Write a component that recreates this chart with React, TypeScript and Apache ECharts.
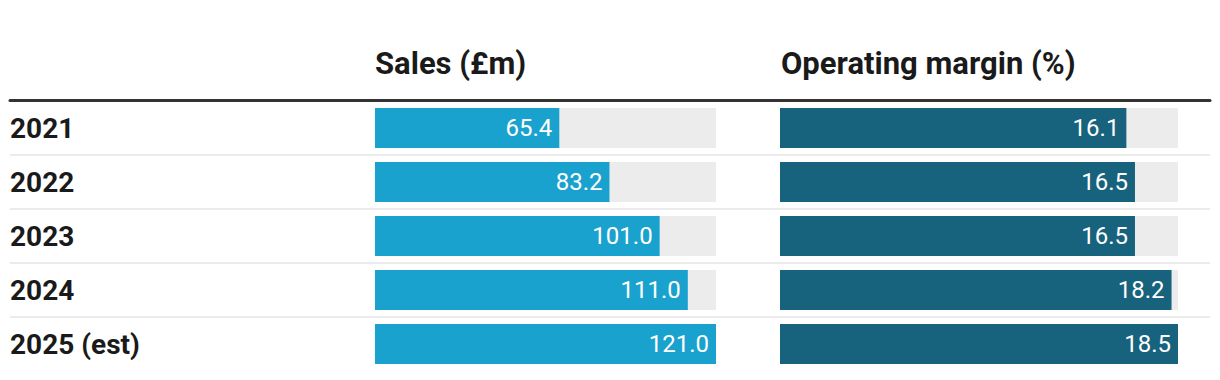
import React, { useEffect, useRef } from "react";
import * as echarts from "echarts";

const years = ["2021", "2022", "2023", "2024", "2025 (est)"];
const sales = [65.4, 83.2, 101.0, 111.0, 121.0];
const margin = [16.1, 16.5, 16.5, 18.2, 18.5];
const headers = ["Sales (£m)", "Operating margin (%)"];

const FONT = "Roboto, 'Noto Sans', sans-serif";

export default function App() {
  const ref = useRef<HTMLDivElement>(null);
  useEffect(() => {
    document.body.style.margin = "0";
    const chart = echarts.init(ref.current!, null, { renderer: "svg" });
    const top = 101;
    const height = 270;
    const hiddenX = (gridIndex: number) => ({
      type: "value" as const,
      gridIndex,
      min: 0,
      max: "dataMax",
      show: false,
    });
    const hiddenY = (gridIndex: number) => ({
      type: "category" as const,
      gridIndex,
      data: years,
      inverse: true,
      show: false,
    });
    const barLabel = {
      show: true,
      position: "insideRight" as const,
      distance: 7,
      color: "#ffffff",
      fontFamily: FONT,
      fontSize: 24,
      formatter: (p: any) => Number(p.value).toFixed(1),
    };
    const headerStyle = { fontFamily: FONT, fontSize: 31, fontWeight: "bold", color: "#1a1a1a" };
    chart.setOption({
      animation: false,
      title: [
        { text: headers[0], left: 375, top: 48, padding: 0, textStyle: headerStyle },
        { text: headers[1], left: 781, top: 48, padding: 0, textStyle: headerStyle },
      ],
      grid: [
        { left: 10, width: 1200, top, height },
        { left: 375, width: 341, top, height },
        { left: 780, width: 398, top, height },
      ],
      xAxis: [
        {
          type: "value",
          gridIndex: 0,
          position: "top",
          offset: 1,
          axisLine: { show: true, lineStyle: { color: "#333333", width: 3 } },
          axisTick: { show: false },
          axisLabel: { show: false },
          splitLine: { show: false },
        },
        hiddenX(1),
        hiddenX(2),
      ],
      yAxis: [
        {
          type: "category",
          gridIndex: 0,
          data: years,
          inverse: true,
          axisLine: { show: false },
          axisTick: { show: false },
          axisLabel: {
            inside: true,
            margin: 0,
            align: "left",
            fontFamily: FONT,
            fontSize: 28,
            fontWeight: "bold",
            color: "#1a1a1a",
          },
          splitLine: {
            show: true,
            showMinLine: false,
            showMaxLine: false,
            lineStyle: { color: "#ebebeb", width: 2 },
          },
        },
        hiddenY(1),
        hiddenY(2),
      ],
      series: [
        {
          type: "bar",
          xAxisIndex: 1,
          yAxisIndex: 1,
          data: sales,
          barWidth: 40,
          itemStyle: { color: "#1aa2ce" },
          showBackground: true,
          backgroundStyle: { color: "#ececec" },
          label: barLabel,
        },
        {
          type: "bar",
          xAxisIndex: 2,
          yAxisIndex: 2,
          data: margin,
          barWidth: 40,
          itemStyle: { color: "#17627c" },
          showBackground: true,
          backgroundStyle: { color: "#ececec" },
          label: barLabel,
        },
      ],
    });
    return () => chart.dispose();
  }, []);
  return <div ref={ref} style={{ width: 1220, height: 380 }} />;
}
